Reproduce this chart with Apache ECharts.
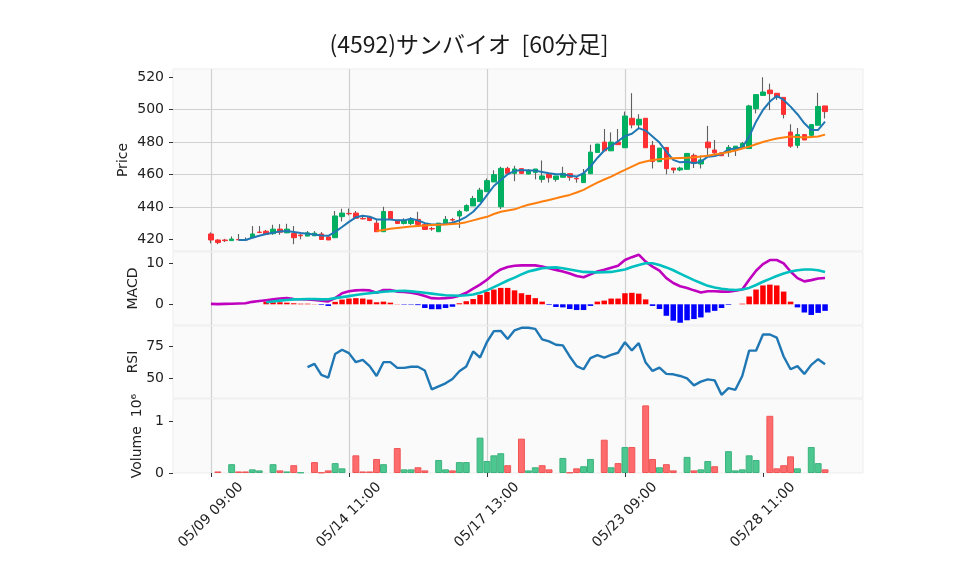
<!DOCTYPE html>
<html>
<head>
<meta charset="utf-8">
<script src="https://cdn.jsdelivr.net/npm/echarts@6/dist/echarts.min.js"></script>
<style>html,body{margin:0;padding:0;background:#fff;}#chart{width:958px;height:575px;}</style>
</head>
<body>
<div id="chart"></div>
<script>
const titleText = '(4592)サンバイオ  [60分足]';
const days = ['05/09','05/10','05/13','05/14','05/15','05/16','05/17','05/20','05/21','05/22','05/23','05/24','05/27','05/28','05/29'];
const hours = ['09:00','10:00','11:00','12:00','13:00','14:00'];
const tickIdx = [0, 20, 40, 60, 80];
const priceTicks = [420, 440, 460, 480, 500, 520];
const macdTicks = [0, 10];
const rsiTicks = [50, 75];
const volTicks = [0, 1000000];

const opens = [423.3,419.6,419.6,419.2,419.9,419.8,421.0,424.5,425.0,423.5,
  426.3,424.0,423.6,422.6,422.0,422.2,423.3,421.5,421.0,434.0,
  436.0,436.2,432.9,433.7,430.0,424.7,437.2,431.8,429.8,429.8,
  432.3,429.2,426.7,424.7,430.0,432.2,434.4,437.6,440.6,443.3,
  449.4,455.4,440.1,463.8,460.7,463.6,460.3,461.3,457.0,460.3,
  457.0,458.3,460.5,457.6,455.0,460.5,473.6,480.0,474.6,480.0,
  476.5,494.7,490.6,494.7,478.0,467.9,476.7,464.0,462.8,463.2,
  471.8,466.5,480.0,475.1,473.4,473.8,475.1,476.7,476.0,500.6,
  508.8,512.1,510.1,507.6,486.2,478.0,484.6,484.2,490.4,502.3];
const closes = [419.6,418.0,419.2,420.2,419.7,419.6,423.3,424.2,423.0,426.3,
  424.4,426.3,421.0,422.2,424.0,423.8,419.9,419.6,434.4,436.2,
  435.8,433.0,432.6,431.6,424.7,437.2,432.5,429.8,431.8,432.5,
  429.2,426.1,426.4,430.0,432.3,431.9,437.2,440.8,445.2,450.4,
  456.2,459.9,463.8,460.7,463.4,460.7,462.6,463.4,459.1,458.0,
  459.1,460.7,458.3,457.3,460.5,473.8,478.8,474.6,480.0,478.4,
  496.1,490.6,494.1,476.5,468.1,476.3,463.6,462.8,464.0,473.0,
  466.9,469.0,476.5,473.4,471.6,476.7,477.5,479.2,502.3,509.3,
  510.9,509.9,507.6,497.1,477.5,484.6,481.3,490.8,502.0,498.8];
const lows = [417.5,417.0,418.3,419.2,419.5,419.4,420.8,423.8,422.6,422.8,
  422.8,423.8,417.0,420.0,422.0,422.0,419.9,419.6,421.0,431.0,
  434.8,432.7,432.3,431.2,424.7,424.7,432.5,429.4,429.2,428.8,
  429.2,426.1,425.3,424.7,430.0,430.9,427.0,437.2,440.6,443.3,
  449.4,455.4,438.7,460.7,455.9,460.7,460.1,457.0,455.0,455.0,
  455.6,458.3,456.2,455.0,455.0,460.5,473.6,474.6,474.6,478.4,
  476.5,488.5,488.5,476.5,463.7,467.9,460.1,460.7,462.0,463.2,
  464.0,463.7,471.8,471.8,471.4,470.9,471.4,476.3,476.0,497.7,
  508.8,499.7,506.0,494.6,476.5,476.3,481.3,483.0,490.4,494.6];
const highs = [424.3,420.0,420.3,421.8,423.3,421.2,428.2,428.2,425.8,429.0,
  429.4,429.6,428.2,423.5,425.1,425.1,424.5,421.5,437.5,438.9,
  439.0,437.5,434.6,434.2,432.7,440.1,437.2,432.0,433.0,433.7,
  437.0,430.0,427.7,430.0,434.4,433.2,438.2,441.6,446.8,451.8,
  457.6,462.6,464.8,464.8,465.4,463.6,463.4,463.4,468.7,460.3,
  459.1,464.8,460.5,459.0,463.4,478.4,478.8,488.1,486.0,488.1,
  498.8,510.2,497.2,494.7,480.7,476.3,476.7,464.0,464.8,473.0,
  473.0,471.8,490.0,481.3,473.4,478.2,477.5,480.1,503.0,509.3,
  520.0,516.1,510.1,507.6,491.0,488.7,484.6,490.8,510.4,502.3];
const volumes = [0,30000,0,170000,30000,30000,70000,50000,0,170000,
  50000,30000,150000,10000,0,210000,10000,50000,190000,90000,
  0,340000,30000,30000,270000,170000,0,480000,70000,70000,
  110000,50000,0,250000,70000,50000,210000,210000,0,680000,
  230000,340000,380000,150000,0,660000,50000,110000,150000,70000,
  0,290000,10000,90000,130000,270000,0,640000,110000,190000,
  500000,500000,0,1300000,270000,110000,170000,50000,0,310000,
  50000,70000,230000,130000,0,420000,50000,70000,340000,250000,
  0,1100000,90000,150000,320000,90000,0,500000,190000,70000];
const ma5 = [null,null,null,null,419.6,419.6,421.0,422.2,423.3,424.0,
  424.9,425.1,424.5,423.9,423.5,423.0,422.4,422.2,424.6,427.6,
  430.8,433.6,434.6,433.9,432.3,432.3,432.3,431.7,431.7,432.7,
  431.7,430.0,429.2,429.2,429.4,430.2,431.7,433.9,437.0,441.6,
  447.3,452.9,456.6,460.1,462.2,462.8,462.4,462.4,461.6,460.8,
  460.1,460.1,459.3,458.7,460.8,464.9,470.2,474.8,477.6,480.5,
  483.8,485.1,488.6,487.1,483.4,479.7,474.1,469.0,467.5,467.9,
  466.9,467.9,471.0,471.4,472.6,475.5,476.1,476.7,483.4,492.6,
  499.8,505.0,508.5,506.0,501.9,497.2,491.6,487.5,487.5,492.6];
const ma25 = [null,null,null,null,null,null,null,null,null,null,
  null,null,null,null,null,null,null,null,null,null,
  null,null,null,null,425.1,425.8,426.5,427.0,427.5,427.9,
  428.3,428.6,428.8,429.0,429.2,429.5,429.8,430.6,431.7,432.8,
  433.9,435.6,437.0,437.8,438.5,440.0,441.3,442.3,443.3,444.3,
  445.3,446.4,447.4,448.9,450.5,452.8,455.0,456.9,458.7,460.8,
  462.8,464.9,466.9,468.0,469.0,469.4,469.8,470.0,470.2,470.4,
  470.6,471.1,471.6,472.3,473.0,473.9,474.8,476.0,477.2,478.7,
  480.1,481.2,482.2,482.8,483.4,483.1,482.8,483.1,483.4,484.6];
const macd = [0.1,0.05,0.1,0.15,0.2,0.25,0.6,0.8,1.0,1.2,
  1.4,1.5,1.3,1.25,1.2,1.05,0.9,0.7,1.5,2.7,
  3.2,3.4,3.5,3.4,2.8,3.5,3.5,3.1,3.0,2.8,
  2.5,2.0,1.5,1.4,1.5,1.65,2.1,2.8,3.8,4.8,
  6.0,7.4,8.5,9.1,9.4,9.5,9.5,9.5,9.2,8.8,
  8.4,8.0,7.5,6.9,6.6,7.3,8.0,8.4,8.9,9.4,
  10.8,11.5,12.1,10.4,9.2,8.2,6.4,5.2,4.4,4.0,
  3.4,2.9,3.2,3.2,3.1,3.1,3.3,3.6,6.0,8.2,
  9.8,10.8,10.8,10.0,8.0,6.4,5.6,5.9,6.3,6.4];
const signal = [null,null,null,null,null,null,null,null,0.5,0.7,
  0.9,1.05,1.2,1.25,1.3,1.3,1.2,1.25,1.5,1.75,
  2.0,2.25,2.5,2.7,2.9,3.05,3.2,3.25,3.3,3.15,
  3.0,2.8,2.6,2.4,2.2,2.15,2.1,2.2,2.4,2.8,
  3.4,4.2,5.0,5.8,6.5,7.3,8.0,8.4,8.8,8.95,
  9.0,8.8,8.5,8.2,7.9,7.85,7.8,7.85,7.9,8.2,
  8.5,9.1,9.6,10.0,10.0,9.6,9.0,8.3,7.5,6.7,
  5.9,5.2,4.5,4.1,3.8,3.6,3.5,3.6,4.0,4.7,
  5.5,6.2,6.9,7.5,8.0,8.3,8.5,8.5,8.3,7.9];
const hist = [null,null,null,null,null,null,null,null,0.65,0.5,
  0.5,0.4,0.25,0.15,0.15,0.05,-0.15,-0.4,0.6,1.15,
  1.4,1.5,1.4,1.15,0.5,0.65,0.4,0.05,-0.1,-0.1,
  -0.2,-0.9,-1.2,-1.2,-0.9,-0.6,0.25,0.75,1.3,2.3,
  3.0,3.6,4.0,4.0,3.4,2.7,2.3,1.5,0.65,-0.15,
  -0.65,-0.75,-1.15,-1.4,-1.4,-0.4,0.65,0.9,1.4,1.4,
  2.7,2.8,2.6,1.2,-0.4,-1.15,-2.8,-4.0,-4.5,-3.9,
  -3.6,-3.2,-2.0,-1.6,-0.9,-0.15,0.0,0.15,1.9,3.6,
  4.6,4.8,4.6,3.1,0.65,-0.75,-2.0,-2.6,-2.1,-1.6];
const rsi = [null,null,null,null,null,null,null,null,null,null,
  null,null,null,null,58.6,61.2,52.6,50.5,68.8,72.1,
  69.5,62.5,64.3,59.4,51.8,62.5,62.5,58.1,58.1,58.9,
  58.9,56.0,41.4,43.8,46.1,49.5,55.5,59.1,70.8,66.1,
  78.1,86.5,86.7,80.5,87.2,89.1,89.1,88.3,80.2,78.6,
  76.0,75.5,66.9,59.4,57.0,65.6,68.0,66.1,68.2,69.8,
  77.9,71.6,77.3,62.2,55.7,58.3,53.4,53.1,51.8,50.0,
  44.5,47.4,49.2,48.4,37.2,42.4,41.1,51.8,71.4,71.4,
  83.9,83.9,81.5,66.9,57.0,59.4,53.4,60.4,64.8,60.9];

const timeLabels = [];
days.forEach(d => hours.forEach(h => timeLabels.push(d + ' ' + h)));
const idx = closes.map((_, i) => i);

const GRID_L = 173, GRID_W = 690;
const gridBase = {show: true, left: GRID_L, width: GRID_W, backgroundColor: '#fafafa', borderColor: '#ededed', borderWidth: 1};
const grids = [
  Object.assign({}, gridBase, {top: 69, height: 182}),
  Object.assign({}, gridBase, {top: 252, height: 73}),
  Object.assign({}, gridBase, {top: 326, height: 72}),
  Object.assign({}, gridBase, {top: 399, height: 74})
];
const txt = {fontFamily: 'DejaVu Sans', fontSize: 14, color: '#222'};

function isMult(v, step) { const r = v / step; return Math.abs(r - Math.round(r)) < 1e-6; }

const xAxes = [0, 1, 2, 3].map(k => ({
  type: 'value', gridIndex: k, min: -5.5, max: 94.5, minInterval: 20, maxInterval: 20,
  axisLine: {show: false, onZero: false},
  axisTick: {show: k === 3, length: 4, customValues: tickIdx, lineStyle: {color: '#333', width: 1}},
  axisLabel: Object.assign({show: k === 3, rotate: 45, margin: 42, align: 'center', verticalAlign: 'middle',
    showMinLabel: true, showMaxLabel: true,
    formatter: v => (v >= 0 && isMult(v, 20) && timeLabels[Math.round(v)]) ? timeLabels[Math.round(v)] : ''}, txt),
  splitLine: {show: true, showMinLine: true, showMaxLine: false, lineStyle: {color: '#d0d0d0', width: 1.2}}
}));

function yAx(k, min, max, step, ticks, name, gap, fmt) {
  return {
    type: 'value', gridIndex: k, min: min, max: max, minInterval: step, maxInterval: step,
    name: name, nameLocation: 'middle', nameGap: gap, nameRotate: 90, nameMoveOverlap: false,
    nameTextStyle: Object.assign({}, txt),
    axisLine: {show: false, onZero: false},
    axisTick: {show: true, length: 4, customValues: ticks, lineStyle: {color: '#333', width: 1}},
    axisLabel: Object.assign({margin: 9, showMinLabel: true, showMaxLabel: true,
      formatter: v => isMult(v, step) ? fmt(v) : ''}, txt),
    splitLine: {show: true, showMinLine: false, showMaxLine: false, lineStyle: {color: '#d0d0d0', width: 1.2}}
  };
}
const yAxes = [
  yAx(0, 412.8, 525.1, 20, priceTicks, 'Price', 43, v => String(Math.round(v))),
  yAx(1, -5.05, 12.76, 10, macdTicks, 'MACD', 33, v => String(Math.round(v))),
  yAx(2, 34.75, 90.5, 25, rsiTicks, 'RSI', 33, v => String(Math.round(v))),
  yAx(3, 0, 1423000, 1000000, volTicks, 'Volume  10⁶', 29, v => String(Math.round(v / 1000000)))
];

const UP = '#00b060', DOWN = '#fe3032', WICK = '#606060';
const volUp = '#4dc790', volDown = '#fd6b6c';

const option = {
  animation: false,
  backgroundColor: '#ffffff',
  title: {
    text: titleText, left: 464, top: 28, textAlign: 'center',
    textStyle: {fontFamily: 'Noto Sans CJK JP', fontSize: 23, fontWeight: 'normal', color: '#1a1a1a'}
  },
  grid: grids,
  xAxis: xAxes,
  yAxis: yAxes,
  series: [
    {
      type: 'candlestick', xAxisIndex: 0, yAxisIndex: 0, barWidth: 1,
      encode: {x: 0, y: [1, 2, 3, 4]},
      data: idx.map(i => [i, opens[i], closes[i], lows[i], highs[i]]),
      itemStyle: {color: WICK, color0: WICK, borderColor: WICK, borderColor0: WICK, borderWidth: 1.1}
    },
    {
      type: 'candlestick', xAxisIndex: 0, yAxisIndex: 0, barWidth: 5,
      encode: {x: 0, y: [1, 2, 3, 4]},
      data: idx.map(i => [i, opens[i], closes[i], Math.min(opens[i], closes[i]), Math.max(opens[i], closes[i])]),
      itemStyle: {color: UP, color0: DOWN, borderColor: UP, borderColor0: DOWN, borderWidth: 1}
    },
    {
      type: 'line', xAxisIndex: 0, yAxisIndex: 0, showSymbol: false, z: 4,
      data: idx.map(i => [i, ma5[i]]),
      lineStyle: {color: '#1f77b4', width: 2}
    },
    {
      type: 'line', xAxisIndex: 0, yAxisIndex: 0, showSymbol: false, z: 4,
      data: idx.map(i => [i, ma25[i]]),
      lineStyle: {color: '#ff7f0e', width: 2}
    },
    {
      type: 'bar', xAxisIndex: 1, yAxisIndex: 1, barWidth: 5.5,
      data: idx.map(i => ({value: [i, hist[i]], itemStyle: {color: (hist[i] || 0) >= 0 ? '#ff0000' : '#0000ff'}}))
    },
    {
      type: 'line', xAxisIndex: 1, yAxisIndex: 1, showSymbol: false, z: 4,
      data: idx.map(i => [i, macd[i]]),
      lineStyle: {color: '#bf00bf', width: 2.6}
    },
    {
      type: 'line', xAxisIndex: 1, yAxisIndex: 1, showSymbol: false, z: 4,
      data: idx.map(i => [i, signal[i]]),
      lineStyle: {color: '#00bfbf', width: 2.6}
    },
    {
      type: 'line', xAxisIndex: 2, yAxisIndex: 2, showSymbol: false, z: 4,
      data: idx.map(i => [i, rsi[i]]),
      lineStyle: {color: '#1f77b4', width: 2.4}
    },
    {
      type: 'bar', xAxisIndex: 3, yAxisIndex: 3, barWidth: 6.9,
      data: idx.map(i => {
        const up = i === 0 || closes[i] >= closes[i - 1];
        return {value: [i, volumes[i]], itemStyle: {
          color: up ? volUp : volDown,
          borderColor: up ? '#3cb37e' : '#f05556',
          borderWidth: volumes[i] > 0 ? 1 : 0
        }};
      })
    }
  ]
};

const chart = echarts.init(document.getElementById('chart'), null, {renderer: 'canvas'});
chart.setOption(option);
</script>
</body>
</html>
